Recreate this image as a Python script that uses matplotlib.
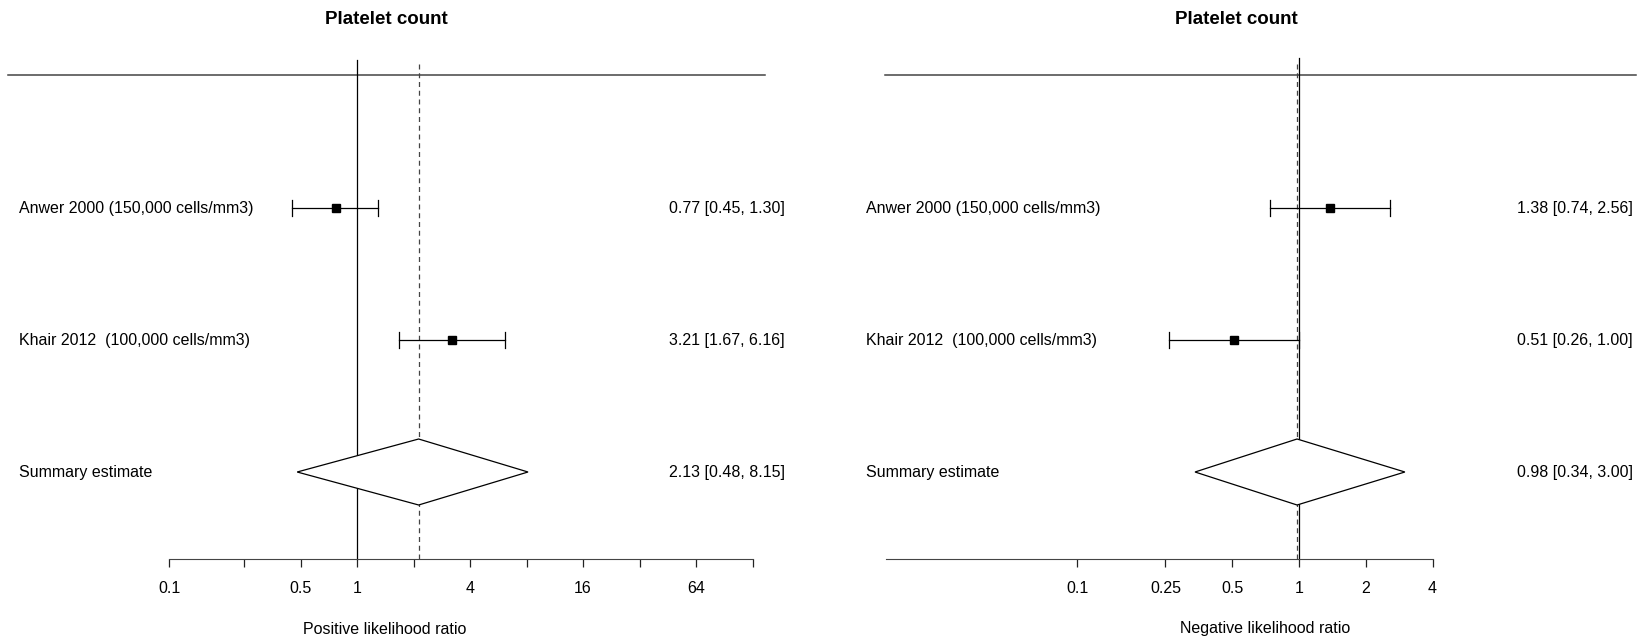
import numpy as np
import matplotlib
matplotlib.use("Agg")
import matplotlib.pyplot as plt
from matplotlib.patches import Polygon
from matplotlib.ticker import FixedLocator, FixedFormatter, NullLocator

plt.rcParams['font.family'] = ['Liberation Sans', 'DejaVu Sans']

# Data
studies = ["Anwer 2000 (150,000 cells/mm3)", "Khair 2012  (100,000 cells/mm3)"]
summary_label = "Summary estimate"

plr_est = [0.77, 3.21]
plr_lo = [0.45, 1.67]
plr_hi = [1.30, 6.16]
plr_sum = (2.13, 0.48, 8.15)

nlr_est = [1.38, 0.51]
nlr_lo = [0.74, 0.26]
nlr_hi = [2.56, 1.00]
nlr_sum = (0.98, 0.34, 3.00)

plr_ticks = [0.1, 0.25, 0.5, 1, 2, 4, 8, 16, 32, 64, 128]
plr_ticklabels = ["0.1", "", "0.5", "1", "", "4", "", "16", "", "64", ""]
nlr_ticks = [0.1, 0.25, 0.5, 1, 2, 4]
nlr_ticklabels = ["0.1", "0.25", "0.5", "1", "2", "4"]

W, H = 1638, 640
fig = plt.figure(figsize=(W / 100, H / 100), dpi=100)

FS = 11.5

# rows: studies at 3, 2 ; summary at 1 ; header line at 4
ROW_PX = 132.0
Y1_PX = 472.0  # pixel y of row 1


def row_of(py):
    return 1 + (Y1_PX - py) / ROW_PX


def panel(x0, x1, one_px, unit_px, est, lo, hi, summ, ticks, ticklabels,
          axis_lo, xlab, xlab_px, title_px, label_px, annot_px, top_line, vtop_px):
    ax = fig.add_axes([x0 / W, 0, (x1 - x0) / W, 1])
    ax.set_xscale('log')
    ax.set_xlim(2 ** ((x0 - one_px) / unit_px), 2 ** ((x1 - one_px) / unit_px))
    ax.set_ylim(row_of(H), row_of(0))
    ax.set_facecolor('none')
    for s in ['top', 'left', 'right']:
        ax.spines[s].set_visible(False)
    ax.yaxis.set_major_locator(NullLocator())

    y_axis = row_of(559)
    ax.spines['bottom'].set_position(('data', y_axis))
    ax.spines['bottom'].set_bounds(axis_lo, ticks[-1])
    ax.spines['bottom'].set_color('#444444')
    ax.xaxis.set_major_locator(FixedLocator(ticks))
    ax.xaxis.set_major_formatter(FixedFormatter(ticklabels))
    ax.xaxis.set_minor_locator(NullLocator())
    ax.tick_params(axis='x', direction='out', length=6, width=0.9, pad=10,
                   labelsize=FS, color='#222222')

    def fx(px):
        return (px - x0) / (x1 - x0)

    # header line
    ax.axhline(row_of(75), xmin=fx(top_line[0]), xmax=fx(top_line[1]),
               color='#444444', lw=1.1)
    # reference line at 1 and summary dashed line
    ax.plot([1, 1], [y_axis, row_of(vtop_px)], color='black', lw=0.9)
    ax.plot([summ[0], summ[0]], [y_axis, row_of(vtop_px + 4)], color='#444444',
            lw=0.9, ls=(0, (4, 3)))

    rows = [3, 2]
    cap = 0.06
    for r, e, l, h, name in zip(rows, est, lo, hi, studies):
        ax.plot([l, h], [r, r], color='black', lw=0.9)
        ax.plot([l, l], [r - cap, r + cap], color='black', lw=0.9)
        ax.plot([h, h], [r - cap, r + cap], color='black', lw=0.9)
        ax.plot([e], [r], marker='s', ms=6, color='black', ls='none')
        ax.text(fx(label_px), r, name, transform=ax.get_yaxis_transform(),
                ha='left', va='center', fontsize=FS)
        ax.text(fx(annot_px), r, f"{e:.2f} [{l:.2f}, {h:.2f}]",
                transform=ax.get_yaxis_transform(), ha='right', va='center',
                fontsize=FS)

    e, l, h = summ
    dh = 33 / ROW_PX
    ax.add_patch(Polygon([(l, 1), (e, 1 + dh), (h, 1), (e, 1 - dh)],
                         closed=True, facecolor='white', edgecolor='black',
                         lw=0.9, zorder=3))
    ax.text(fx(label_px), 1, summary_label, transform=ax.get_yaxis_transform(),
            ha='left', va='center', fontsize=FS)
    ax.text(fx(annot_px), 1, f"{e:.2f} [{l:.2f}, {h:.2f}]",
            transform=ax.get_yaxis_transform(), ha='right', va='center',
            fontsize=FS)

    ax.text(fx(title_px), 1 - 19 / H, "Platelet count", transform=ax.transAxes,
            ha='center', va='center', fontsize=13.5, fontweight='bold')
    ax.text(fx(xlab_px), 1 - 629 / H, xlab, transform=ax.transAxes,
            ha='center', va='center', fontsize=FS)
    return ax


panel(0, 819, 357, 56.5, plr_est, plr_lo, plr_hi, plr_sum, plr_ticks,
      plr_ticklabels, 0.1, "Positive likelihood ratio", 385, 386, 19, 785,
      (8, 765), 60)
panel(819, 1638, 1299, 66.8, nlr_est, nlr_lo, nlr_hi, nlr_sum, nlr_ticks,
      nlr_ticklabels, 0.0138, "Negative likelihood ratio", 1265, 1236, 866,
      1633, (885, 1636), 58)

fig.savefig("out.png", dpi=100)
